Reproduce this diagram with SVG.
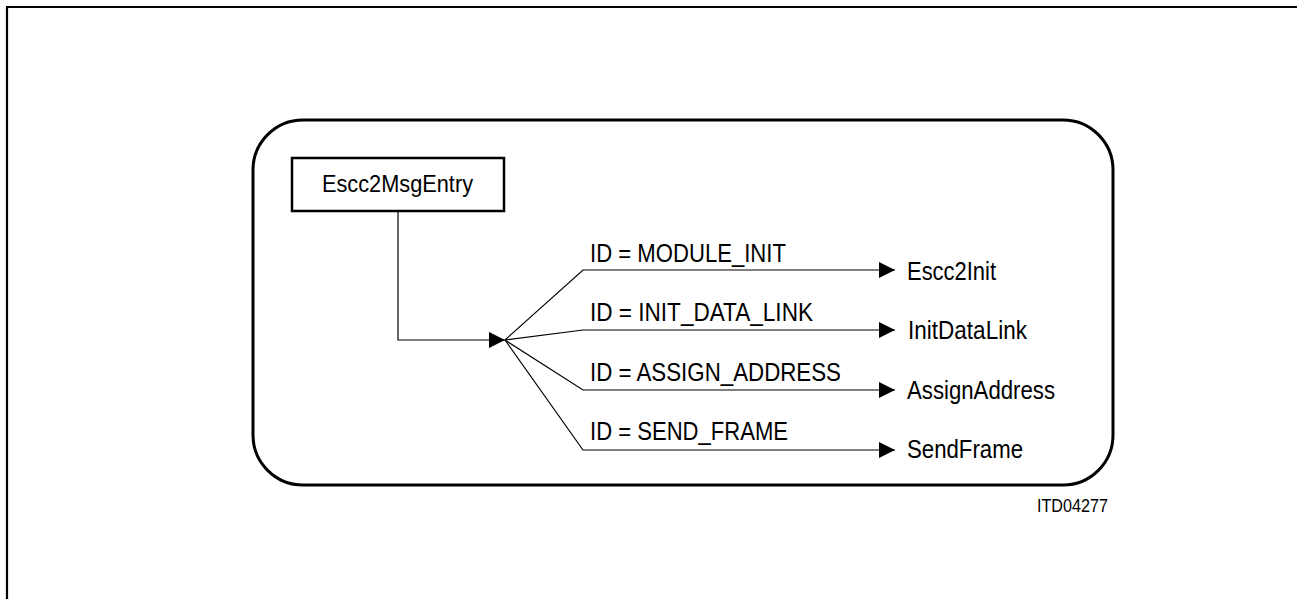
<svg xmlns="http://www.w3.org/2000/svg" width="1297" height="599" viewBox="0 0 1297 599">
<style>
text{font-family:"Liberation Sans",Arial,sans-serif;font-size:26px;fill:#000}
.ln{fill:none;stroke:#000;stroke-width:1.2}
</style>
<defs>
<marker id="ah" viewBox="0 0 16 16" refX="16" refY="8" markerWidth="16" markerHeight="16" markerUnits="userSpaceOnUse" orient="auto">
<path d="M0,0 L16,8 L0,16 Z" fill="#000"/>
</marker>
</defs>
<rect width="1297" height="599" fill="#fff"/>
<path d="M7,599 V7 H1297" fill="none" stroke="#000" stroke-width="2.2"/>
<g id="frame">
<rect x="253" y="120" width="860" height="365" rx="50" ry="50" fill="none" stroke="#000" stroke-width="3"/>
</g>
<g id="entry">
<rect x="292" y="158" width="212" height="53" fill="#fff" stroke="#000" stroke-width="2.5"/>
<text x="322" y="192" style="font-size:23px" textLength="151" lengthAdjust="spacingAndGlyphs">Escc2MsgEntry</text>
</g>
<g id="connectors">
<path class="ln" d="M398,211 V340 H505" marker-end="url(#ah)"/>
<path class="ln" d="M505,340 L583,270 H895" marker-end="url(#ah)"/>
<path class="ln" d="M505,340 L583,330 H895" marker-end="url(#ah)"/>
<path class="ln" d="M505,340 L583,390 H895" marker-end="url(#ah)"/>
<path class="ln" d="M505,340 L583,450 H895" marker-end="url(#ah)"/>
</g>
<g id="labels">
<text x="590" y="261.5" textLength="196" lengthAdjust="spacingAndGlyphs">ID = MODULE_INIT</text>
<text x="590" y="320.5" textLength="223" lengthAdjust="spacingAndGlyphs">ID = INIT_DATA_LINK</text>
<text x="590" y="380.5" textLength="251" lengthAdjust="spacingAndGlyphs">ID = ASSIGN_ADDRESS</text>
<text x="590" y="440" textLength="198" lengthAdjust="spacingAndGlyphs">ID = SEND_FRAME</text>
</g>
<g id="escc2init"><text x="907" y="279.5" textLength="89" lengthAdjust="spacingAndGlyphs">Escc2Init</text></g>
<g id="initdatalink"><text x="908" y="338.5" textLength="119" lengthAdjust="spacingAndGlyphs">InitDataLink</text></g>
<g id="assignaddress"><text x="907" y="398.5" textLength="148" lengthAdjust="spacingAndGlyphs">AssignAddress</text></g>
<g id="sendframe"><text x="907" y="458" textLength="116" lengthAdjust="spacingAndGlyphs">SendFrame</text></g>
<g id="code"><text x="1037" y="512" style="font-size:19px" textLength="71" lengthAdjust="spacingAndGlyphs">ITD04277</text></g>
</svg>
